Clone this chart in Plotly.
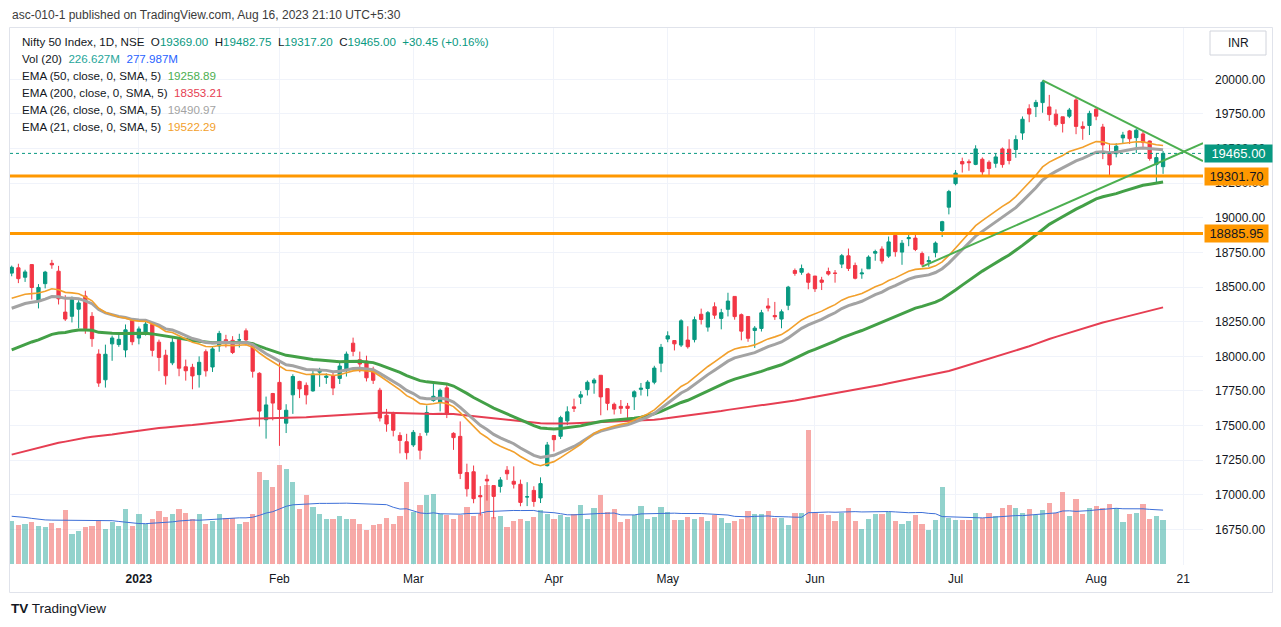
import numpy as np
import pandas as pd
import plotly.graph_objects as go

# ------------------------------------------------------------------ data
# Nifty 50, daily bars 6 Dec 2022 .. 16 Aug 2023
opens = [18600.65,18638.85,18570.85,18662.25,18402.20,18524.40,18671.25,18614.40,18319.10,18288.80,
         18340.30,18435.10,18288.30,18016.20,17830.40,18089.80,18084.75,18045.70,18259.10,
         18131.70,18163.20,18230.65,18101.95,18008.05,17952.55,18121.30,17924.25,17920.85,17867.50,
         18033.15,17922.80,18074.30,18119.80,18115.60,18118.45,18183.95,18093.35,17877.20,17541.95,17731.45,
         17811.60,17517.10,17721.75,17818.55,17790.10,17750.30,17885.50,17847.55,17859.10,17840.35,
         17896.60,18094.75,17974.85,17965.55,17905.80,17755.35,17574.65,17591.35,17428.60,17383.25,
         17360.10,17421.50,17451.25,17680.35,17665.75,17772.05,17443.80,17421.90,17160.55,17166.45,
         16994.65,17111.80,17066.60,17060.40,17177.45,17097.40,17076.20,16984.30,17031.75,16977.30,17210.35,
         17427.95,17422.30,17533.85,17634.90,17704.80,17759.20,17807.30,17863.00,17766.60,17653.35,
         17638.60,17639.75,17707.55,17761.55,17767.30,17813.10,17950.40,
         18124.80,18113.80,18081.00,18117.30,18120.60,18303.40,18210.75,18357.80,18273.75,18339.30,
         18432.35,18300.45,18287.50,18186.15,18201.10,18362.90,18294.80,18268.90,18368.35,18619.15,
         18606.65,18594.20,
         18579.40,18550.85,18612.00,18600.80,18665.60,18725.35,18655.90,18595.05,18631.80,18744.60,
         18774.45,18723.30,18873.30,18752.35,18849.40,18853.60,18741.85,18682.35,18748.55,18908.15,19076.85,
         19246.50,19406.10,19405.00,19385.70,19422.70,19400.85,19393.60,19497.45,19495.20,19493.45,
         19612.15,19787.50,19802.95,19831.70,19800.45,19748.45,19729.35,19733.35,19850.90,19659.80,19666.35,
         19784.00,19655.40,19463.75,19462.80,19576.85,19627.20,19578.80,19605.55,19554.25,19383.95,19369.00]
highs = [18654.90,18668.30,18625.00,18664.10,18521.45,18617.00,18696.10,18652.90,18440.95,18431.65,
         18404.90,18473.35,18318.75,18050.45,18084.10,18149.25,18173.10,18229.70,18265.25,
         18215.15,18251.95,18243.00,18120.30,18047.40,18141.40,18127.60,17976.35,17945.80,17999.35,
         18049.65,18072.05,18183.75,18155.20,18145.45,18162.60,18201.25,18100.60,17884.75,17709.15,17735.70,
         17972.20,17653.90,17870.30,17823.70,17811.15,17898.70,17916.90,17876.95,17880.70,17954.55,
         18034.25,18134.75,18034.10,18004.35,17924.90,17772.50,17620.05,17599.75,17451.60,17440.45,
         17467.75,17445.80,17644.75,17799.95,17766.50,17798.75,17451.50,17529.90,17224.65,17211.35,
         17062.45,17145.80,17066.60,17127.70,17207.25,17205.40,17109.45,17091.00,17061.75,17126.15,17381.60,
         17428.05,17570.55,17638.70,17694.10,17748.75,17825.75,17842.15,17863.00,17766.60,17666.15,
         17684.45,17663.20,17754.50,17807.45,17827.75,17931.60,18089.15,
         18180.25,18116.35,18267.45,18216.95,18286.95,18344.20,18326.65,18389.70,18342.75,18458.90,
         18432.35,18309.00,18287.50,18218.10,18335.25,18419.75,18392.60,18338.10,18508.55,18633.85,
         18662.45,18603.90,
         18580.30,18573.70,18640.15,18622.75,18738.95,18777.90,18676.65,18633.60,18728.90,18769.70,
         18794.10,18864.70,18881.45,18839.70,18875.90,18886.60,18756.40,18722.05,18829.25,18978.25,19201.70,
         19345.10,19434.15,19421.60,19523.60,19435.85,19414.75,19467.50,19507.70,19567.00,19595.35,
         19731.85,19819.45,19851.70,19991.85,19887.40,19782.80,19729.35,19793.25,19867.55,19695.90,19772.75,
         19795.60,19678.25,19537.65,19538.85,19620.45,19634.40,19645.50,19623.60,19557.75,19465.85,19482.75]
lows = [18577.90,18528.40,18536.95,18410.10,18345.70,18490.55,18632.10,18374.15,18255.15,18244.55,
        18202.65,18162.75,18068.60,17779.50,17774.25,17967.45,18068.35,17992.80,18080.30,
        18086.50,18149.80,17999.35,17892.60,17795.55,17936.15,17856.00,17824.35,17761.65,17774.25,
        17853.65,17886.95,18032.45,18063.75,18016.20,18063.45,18078.65,17846.15,17493.55,17405.55,17537.55,
        17353.40,17445.95,17584.20,17698.35,17652.55,17744.15,17779.80,17801.00,17719.75,17800.05,
        17853.80,18000.65,17884.60,17818.40,17800.30,17529.45,17455.40,17421.80,17299.00,17255.20,
        17345.25,17255.20,17427.70,17671.95,17602.25,17553.95,17324.35,17113.45,16987.10,16938.90,
        16850.15,16958.15,16828.35,17016.00,17107.85,17045.30,16917.35,16918.55,16913.75,16940.60,17204.65,
        17312.75,17402.70,17502.85,17597.95,17655.15,17717.25,17729.65,17574.05,17610.20,17579.85,
        17584.35,17553.95,17612.50,17716.85,17711.20,17797.90,17885.30,
        18101.75,18042.40,18066.70,18055.45,18100.30,18229.65,18178.20,18270.40,18194.55,18287.90,
        18264.35,18115.35,18104.85,18060.40,18178.85,18324.20,18262.95,18202.40,18333.15,18581.50,
        18588.55,18483.85,
        18464.55,18478.40,18582.80,18531.60,18636.95,18615.60,18555.40,18559.75,18631.80,18690.00,
        18669.05,18710.50,18719.15,18660.65,18794.85,18759.50,18647.10,18646.70,18714.25,18861.35,19024.60,
        19234.40,19326.65,19339.60,19379.75,19303.85,19301.00,19361.75,19361.75,19385.80,19433.35,
        19562.95,19690.20,19727.45,19758.40,19700.00,19658.30,19615.95,19719.80,19603.55,19563.10,19597.60,
        19704.60,19423.55,19296.45,19436.45,19533.10,19533.05,19467.50,19495.40,19412.75,19257.90,19317.20]
closes = [18642.75,18560.50,18609.35,18496.60,18497.15,18608.00,18660.30,18414.90,18269.00,18420.45,
          18385.30,18199.10,18127.35,17806.80,18014.60,18132.30,18122.50,18191.00,18105.30,
          18197.45,18232.55,18042.95,17992.15,17859.45,18101.20,17914.15,17895.70,17858.20,17956.60,
          17894.85,18053.30,18165.35,18107.85,18027.65,18118.55,18118.30,17891.95,17604.35,17648.95,17662.15,
          17616.30,17610.40,17854.05,17764.60,17721.50,17871.70,17893.45,17856.50,17770.90,17929.85,
          18015.85,18035.85,17944.20,17844.60,17826.70,17554.30,17511.25,17465.80,17392.70,17303.95,
          17450.90,17321.90,17594.35,17711.45,17754.40,17589.60,17412.90,17154.30,17043.30,16972.15,
          16985.60,17100.05,16988.40,17107.50,17151.90,17076.90,16945.05,16985.70,16951.70,17080.70,17359.75,
          17398.05,17557.05,17599.15,17624.05,17722.30,17812.40,17828.00,17706.85,17660.15,17618.75,
          17624.45,17624.05,17743.40,17769.25,17813.60,17915.05,18065.00,
          18147.65,18089.85,18255.80,18069.00,18264.40,18265.95,18315.10,18297.00,18314.80,18398.85,
          18286.50,18181.75,18129.95,18203.40,18314.40,18348.00,18285.40,18321.15,18499.35,18598.65,
          18633.85,18534.40,
          18487.75,18534.10,18593.85,18599.00,18726.40,18634.55,18563.40,18601.50,18716.15,18755.90,
          18688.10,18826.00,18755.45,18816.70,18856.85,18771.25,18665.50,18691.20,18817.40,18972.10,19189.05,
          19322.55,19389.00,19398.50,19497.30,19331.80,19355.90,19439.40,19384.30,19413.75,19564.50,
          19711.45,19749.25,19833.15,19979.15,19745.00,19672.35,19680.60,19778.30,19659.90,19646.05,19753.80,
          19733.55,19526.55,19381.65,19517.00,19597.30,19570.85,19632.55,19543.10,19428.30,19434.55,19465.00]
volumes_m = [220,199,205,216,196,191,210,186,278,156,170,191,196,226,179,216,194,283,194,
             257,207,233,271,241,257,283,264,233,257,207,220,257,239,239,205,216,257,477,434,399,
             512,491,425,283,356,295,260,231,231,247,231,231,207,174,200,205,239,207,247,425,
             269,307,356,360,260,255,233,255,295,247,260,408,243,247,191,220,231,220,243,278,260,
             231,252,243,257,304,233,290,356,266,283,216,231,255,300,233,243,295,
             269,226,226,243,234,243,220,255,239,213,220,231,272,260,260,272,239,239,199,264,264,694,
             264,260,255,220,264,290,222,182,234,260,260,269,222,208,220,252,208,174,226,396,239,
             226,226,226,265,237,263,246,291,307,291,265,286,252,277,316,263,371,246,335,257,291,
             298,291,312,291,217,260,265,312,234,246,226.627]
# 20-bar volume MA for the first bars (history before the visible range)
vol_ma_head = [246,244,240,235,230,227,226,226,225,225,226,226,226,225,225,223,219,215,211]

holidays = ["2023-01-26","2023-03-07","2023-03-30","2023-04-04","2023-04-07",
            "2023-04-14","2023-05-01","2023-06-29","2023-08-15"]

# EMA settings and starting value at the first visible bar
ema_len = {"EMA50": 50, "EMA200": 200, "EMA26": 26, "EMA21": 21}
ema_seed = {"EMA50": 18046, "EMA200": 17290, "EMA26": 18347, "EMA21": 18419}

# levels / drawings
levels = [19301.70, 18885.95]
last_price = 19465.00
trend_down = {"d0": "2023-07-20", "p0": 19991.85, "d1_off": 5.97, "p1": 19410.0}
trend_up = {"d0": "2023-06-23", "p0": 18647.10, "d1_off": 5.97, "p1": 19539.0}

tick_dates = ["2023-01-02","2023-02-01","2023-03-01","2023-04-03","2023-05-02",
              "2023-06-01","2023-07-03","2023-08-01","2023-08-21"]
tick_text = ["<b>2023</b>","Feb","Mar","Apr","May","Jun","Jul","Aug","21"]
price_ticks = list(range(16750, 20001, 250))

header = "asc-010-1 published on TradingView.com, Aug 16, 2023 21:10 UTC+5:30"
legend_rows = [
    ("Nifty 50 Index, 1D, NSE", [("O", None), ("19369.00", "#089981"), ("H", None), ("19482.75", "#089981"),
                                 ("L", None), ("19317.20", "#089981"), ("C", None), ("19465.00", "#089981"),
                                 ("+30.45 (+0.16%)", "#089981")]),
    ("Vol (20)", [("226.627M", "#26a69a"), ("277.987M", "#2962ff")]),
    ("EMA (50, close, 0, SMA, 5)", [("19258.89", "#4caf50")]),
    ("EMA (200, close, 0, SMA, 5)", [("18353.21", "#e63e52")]),
    ("EMA (26, close, 0, SMA, 5)", [("19490.97", "#a3a3a3")]),
    ("EMA (21, close, 0, SMA, 5)", [("19522.29", "#f2a02c")]),
]

# ------------------------------------------------------------------ derived
dates = [d for d in pd.bdate_range("2022-12-06", "2023-08-16") if d.strftime("%Y-%m-%d") not in holidays]
n = len(dates)
idx = list(range(n))
date_pos = {d.strftime("%Y-%m-%d"): i for i, d in enumerate(dates)}

def pos_of(ds):
    if ds in date_pos:
        return date_pos[ds]
    extra = len(pd.bdate_range("2023-08-17", ds))
    return n - 1 + extra

tick_vals = [pos_of(d) for d in tick_dates]

def ema(seed, length, vals):
    a = 2.0 / (length + 1)
    out = [seed]
    for v in vals[1:]:
        out.append(out[-1] + a * (v - out[-1]))
    return out

emas = {k: ema(ema_seed[k], ema_len[k], closes) for k in ema_len}
vol_ma = list(vol_ma_head) + [float(np.mean(volumes_m[i - 19:i + 1])) for i in range(19, n)]

GREEN = "#089981"
RED = "#f23645"
vol_colors = ["rgba(38,166,154,0.5)" if c >= o else "rgba(239,83,80,0.5)" for o, c in zip(opens, closes)]

# ------------------------------------------------------------------ geometry (screen pixels)
OFF = 8                         # page body margin around the figure
W_FIG, H_FIG = 1281 - OFF, 627 - OFF
L, R, T, B = 10, 1203, 28, 565  # plot pane in screen pixels
PW, PH = R - L, B - T
X0, DX = 11.7, 6.694            # first bar centre and bar spacing
Y20K, PXPT = 79.3, 0.1385       # pixel of 20000 and px per point
x_range = [(L - X0) / DX, (R - X0) / DX]
p_range = [20000 - (B - Y20K) / PXPT, 20000 + (Y20K - T) / PXPT]
VPX = 0.192                     # px per million shares
v_range = [-(B - 563.5) / VPX, (563.5 - T) / VPX]

def px(x):
    return (x - L) / PW

def py(y):
    return (B - y) / PH

FONT = "Liberation Sans"
TXT = "#131722"

fig = go.Figure()

fig.add_trace(go.Bar(x=idx, y=volumes_m, marker_color=vol_colors, marker_line_width=0,
                     width=0.78, yaxis="y", name="Volume", hoverinfo="skip"))
fig.add_trace(go.Scatter(x=idx, y=vol_ma, mode="lines", line=dict(color="#3d6fd8", width=1),
                         yaxis="y", name="Vol MA", hoverinfo="skip"))

ema_style = {"EMA200": ("#e63e52", 2.0), "EMA50": ("#43a047", 3.0),
             "EMA26": ("#a3a3a3", 3.0), "EMA21": ("#f2a02c", 1.6)}
for k in ["EMA200", "EMA50", "EMA26", "EMA21"]:
    c, w = ema_style[k]
    fig.add_trace(go.Scatter(x=idx, y=emas[k], mode="lines", line=dict(color=c, width=w),
                             yaxis="y2", name=k, hoverinfo="skip"))

fig.add_trace(go.Candlestick(
    x=idx, open=opens, high=highs, low=lows, close=closes, yaxis="y2",
    increasing=dict(line=dict(color=GREEN, width=1), fillcolor=GREEN),
    decreasing=dict(line=dict(color=RED, width=1), fillcolor=RED),
    whiskerwidth=0, name="NIFTY", text=[d.strftime("%d %b %Y") for d in dates]))

shapes = []
for lv in levels:
    shapes.append(dict(type="line", xref="paper", yref="y2", x0=0, x1=1, y0=lv, y1=lv,
                       line=dict(color="#ff9800", width=3), layer="above"))
shapes.append(dict(type="line", xref="paper", yref="y2", x0=0, x1=1, y0=last_price, y1=last_price,
                   line=dict(color=GREEN, width=1, dash="dot"), layer="above"))
for tl in (trend_down, trend_up):
    xa = pos_of(tl["d0"])
    xb = n - 1 + tl["d1_off"]
    shapes.append(dict(type="line", xref="x", yref="y2", x0=xa, x1=xb, y0=tl["p0"], y1=tl["p1"],
                       line=dict(color="#4caf50", width=2), layer="above"))
# frame
shapes.append(dict(type="rect", xref="paper", yref="paper", x0=px(9.5), x1=px(1272.5),
                   y0=py(592.5), y1=py(27.5), line=dict(color="#e0e3eb", width=1), layer="below"))
# INR box
shapes.append(dict(type="rect", xref="paper", yref="paper", x0=px(1210), x1=px(1266),
                   y0=py(55), y1=py(31), line=dict(color="#d1d4dc", width=1), layer="above"))

ann = []
ann.append(dict(text=header, xref="paper", yref="paper", x=px(10), y=py(15.5), xanchor="left",
                yanchor="middle", showarrow=False, font=dict(family=FONT, size=12, color="#3b3b3b")))
row_y = [42, 58.5, 75.5, 92.5, 109.5, 126.5]
for (lab, parts), yy in zip(legend_rows, row_y):
    s = lab
    for t, col in parts:
        if col is None:
            s += "&nbsp;&nbsp;" + t
        elif t in ("19369.00", "19482.75", "19317.20", "19465.00"):
            s += "<span style='color:%s'>%s</span>" % (col, t)
        else:
            s += "&nbsp;&nbsp;<span style='color:%s'>%s</span>" % (col, t)
    ann.append(dict(text=s, xref="paper", yref="paper", x=px(20), y=py(yy), xanchor="left",
                    yanchor="middle", showarrow=False, font=dict(family=FONT, size=11.6, color=TXT)))
ann.append(dict(text="INR", xref="paper", yref="paper", x=px(1238), y=py(43), xanchor="center",
                yanchor="middle", showarrow=False, font=dict(family=FONT, size=12, color=TXT)))
# price scale labels
for val, bg, fg, wd in [(last_price, GREEN, "white", 63), (levels[0], "#ff9800", TXT, 59),
                        (levels[1], "#ff9800", TXT, 59)]:
    ann.append(dict(text="%.2f" % val, xref="paper", yref="y2", x=px(1204), y=val, xanchor="left",
                    yanchor="middle", showarrow=False, bgcolor=bg, borderpad=2, width=wd, height=13,
                    align="center", font=dict(family=FONT, size=13, color=fg)))
ann.append(dict(text="<b>TV</b> TradingView", xref="paper", yref="paper", x=px(9), y=py(608),
                xanchor="left", yanchor="middle", showarrow=False,
                font=dict(family=FONT, size=13.5, color=TXT)))

fig.update_layout(
    width=W_FIG, height=H_FIG,
    margin=dict(l=L - OFF, r=W_FIG - (R - OFF), t=T - OFF, b=H_FIG - (B - OFF)),
    paper_bgcolor="white", plot_bgcolor="white", showlegend=False,
    shapes=shapes, annotations=ann, bargap=0,
    xaxis=dict(range=x_range, tickvals=tick_vals, ticktext=tick_text, showgrid=True,
               gridcolor="#f0f3fa", gridwidth=1, zeroline=False, showline=False, ticks="",
               tickfont=dict(family=FONT, size=12, color=TXT), rangeslider=dict(visible=False),
               ticklabelstandoff=5, fixedrange=True),
    yaxis=dict(range=v_range, visible=False, showgrid=False, zeroline=False, fixedrange=True),
    yaxis2=dict(range=p_range, overlaying="y", side="right", anchor="x", tickvals=price_ticks,
                ticktext=["%.2f" % v for v in price_ticks], showgrid=True, gridcolor="#f0f3fa",
                zeroline=False, showline=False, ticks="", ticklabelstandoff=11,
                tickfont=dict(family=FONT, size=12, color=TXT), fixedrange=True),
)

fig.write_html("out.html")
